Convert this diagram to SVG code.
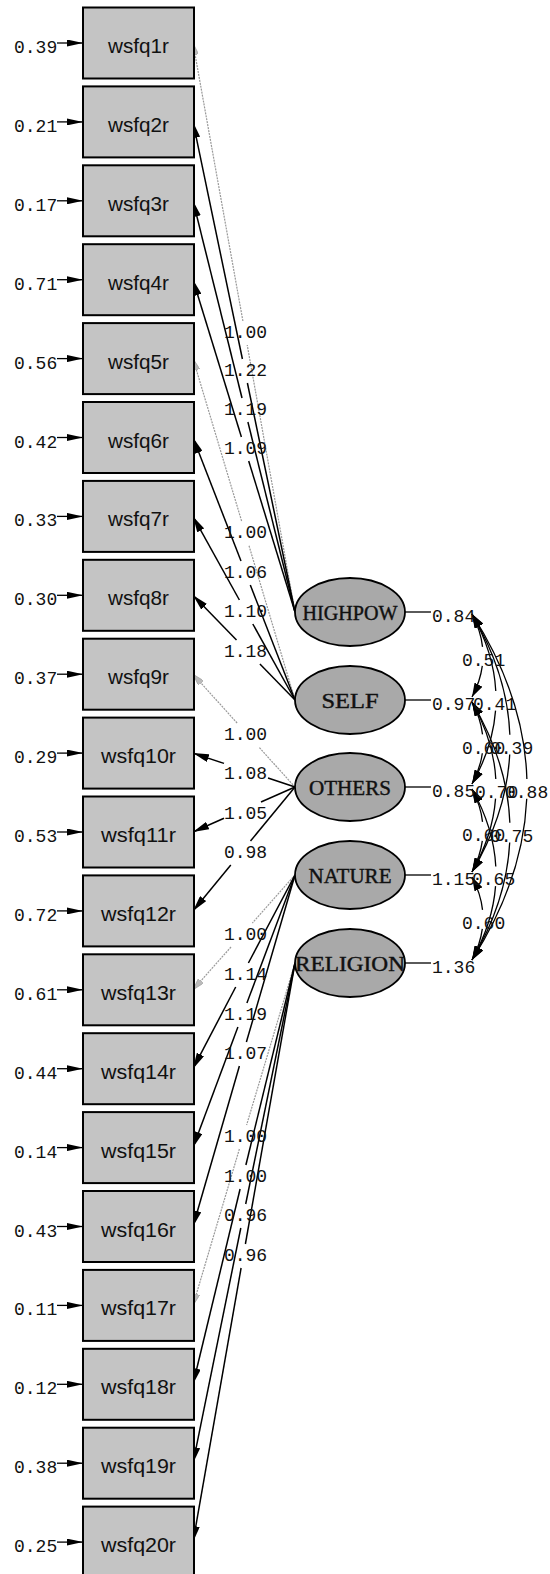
<svg xmlns="http://www.w3.org/2000/svg" width="550" height="1574" viewBox="0 0 550 1574">
<style>
.box{fill:#c4c4c4;stroke:#000;stroke-width:2}
.lat{fill:#a9a9a9;stroke:#000;stroke-width:1.8}
.bt{font-family:"Liberation Sans",Arial,sans-serif;font-size:20px;text-anchor:middle;fill:#111}
.lt{font-family:"Liberation Serif","Times New Roman",serif;font-size:20px;text-anchor:middle;fill:#111;stroke:#111;stroke-width:0.4}
.num{font-family:"Liberation Mono","Courier New",monospace;font-size:18px;fill:#111}
.mid{text-anchor:middle}
.ld{stroke:#000;stroke-width:1.5;fill:none}
.fx{stroke:#999;stroke-width:1.2;stroke-dasharray:2 1;fill:none}
.er{stroke:#000;stroke-width:1.3;fill:none}
.cv{stroke:#000;stroke-width:1.3;fill:none}
</style>
<defs>
<marker id="ah" viewBox="0 0 16 8" refX="16" refY="4" markerWidth="16" markerHeight="8" markerUnits="userSpaceOnUse" orient="auto"><path d="M0,0 L16,4 L0,8 z" fill="#000"/></marker>
<marker id="ahg" viewBox="0 0 12 7" refX="12" refY="3.5" markerWidth="12" markerHeight="7" markerUnits="userSpaceOnUse" orient="auto"><path d="M0,0 L12,3.5 L0,7 z" fill="#bbb" stroke="#999" stroke-width="0.6"/></marker>
<marker id="ae" viewBox="0 0 16 7" refX="16" refY="3.5" markerWidth="16" markerHeight="7" markerUnits="userSpaceOnUse" orient="auto"><path d="M0,0 L16,3.5 L0,7 z" fill="#000"/></marker>
<marker id="ac" viewBox="0 0 14 9" refX="14" refY="4.5" markerWidth="14" markerHeight="9" markerUnits="userSpaceOnUse" orient="auto-start-reverse"><path d="M0,0 L14,4.5 L0,9 z" fill="#000"/></marker>
</defs>

<g id="connectors">
<g id="errors">
<line class="er" x1="57" y1="43" x2="83" y2="43" marker-end="url(#ae)"/>
<line class="er" x1="57" y1="121.9" x2="83" y2="121.9" marker-end="url(#ae)"/>
<line class="er" x1="57" y1="200.8" x2="83" y2="200.8" marker-end="url(#ae)"/>
<line class="er" x1="57" y1="279.7" x2="83" y2="279.7" marker-end="url(#ae)"/>
<line class="er" x1="57" y1="358.6" x2="83" y2="358.6" marker-end="url(#ae)"/>
<line class="er" x1="57" y1="437.5" x2="83" y2="437.5" marker-end="url(#ae)"/>
<line class="er" x1="57" y1="516.4" x2="83" y2="516.4" marker-end="url(#ae)"/>
<line class="er" x1="57" y1="595.3" x2="83" y2="595.3" marker-end="url(#ae)"/>
<line class="er" x1="57" y1="674.2" x2="83" y2="674.2" marker-end="url(#ae)"/>
<line class="er" x1="57" y1="753.1" x2="83" y2="753.1" marker-end="url(#ae)"/>
<line class="er" x1="57" y1="832" x2="83" y2="832" marker-end="url(#ae)"/>
<line class="er" x1="57" y1="910.9" x2="83" y2="910.9" marker-end="url(#ae)"/>
<line class="er" x1="57" y1="989.8" x2="83" y2="989.8" marker-end="url(#ae)"/>
<line class="er" x1="57" y1="1068.7" x2="83" y2="1068.7" marker-end="url(#ae)"/>
<line class="er" x1="57" y1="1147.6" x2="83" y2="1147.6" marker-end="url(#ae)"/>
<line class="er" x1="57" y1="1226.5" x2="83" y2="1226.5" marker-end="url(#ae)"/>
<line class="er" x1="57" y1="1305.4" x2="83" y2="1305.4" marker-end="url(#ae)"/>
<line class="er" x1="57" y1="1384.3" x2="83" y2="1384.3" marker-end="url(#ae)"/>
<line class="er" x1="57" y1="1463.2" x2="83" y2="1463.2" marker-end="url(#ae)"/>
<line class="er" x1="57" y1="1542.1" x2="83" y2="1542.1" marker-end="url(#ae)"/>
</g>
<g id="loadings">
<line class="fx" x1="295" y1="612" x2="247.2" y2="345"/><line class="fx" x1="242.9" y1="321" x2="193" y2="43" marker-end="url(#ahg)"/>
<line class="ld" x1="295" y1="612" x2="247.4" y2="383"/><line class="ld" x1="242.4" y1="359" x2="193" y2="121.9" marker-end="url(#ah)"/>
<line class="ld" x1="295" y1="612" x2="247.9" y2="422"/><line class="ld" x1="242" y1="398" x2="193" y2="200.8" marker-end="url(#ah)"/>
<line class="ld" x1="295" y1="612" x2="248.7" y2="461"/><line class="ld" x1="241.4" y1="437" x2="193" y2="279.7" marker-end="url(#ah)"/>
<line class="fx" x1="295" y1="700" x2="248.8" y2="545"/><line class="fx" x1="241.6" y1="521" x2="193" y2="358.6" marker-end="url(#ahg)"/>
<line class="ld" x1="295" y1="700" x2="250.3" y2="585"/><line class="ld" x1="241" y1="561" x2="193" y2="437.5" marker-end="url(#ah)"/>
<line class="ld" x1="295" y1="700" x2="252.8" y2="624"/><line class="ld" x1="239.4" y1="600" x2="193" y2="516.4" marker-end="url(#ah)"/>
<line class="ld" x1="295" y1="700" x2="259.9" y2="664"/><line class="ld" x1="236.5" y1="640" x2="193" y2="595.3" marker-end="url(#ah)"/>
<line class="fx" x1="295" y1="787" x2="258.8" y2="747"/><line class="fx" x1="237.1" y1="723" x2="193" y2="674.2" marker-end="url(#ahg)"/>
<line class="ld" x1="295" y1="787" x2="268" y2="778"/><line class="ld" x1="224" y1="763.4" x2="193" y2="753.1" marker-end="url(#ah)"/>
<line class="ld" x1="295" y1="787" x2="261" y2="802"/><line class="ld" x1="224" y1="818.3" x2="193" y2="832" marker-end="url(#ah)"/>
<line class="ld" x1="295" y1="787" x2="250.5" y2="841"/><line class="ld" x1="230.8" y1="865" x2="193" y2="910.9" marker-end="url(#ah)"/>
<line class="fx" x1="295" y1="875" x2="252.4" y2="923"/><line class="fx" x1="231" y1="947" x2="193" y2="989.8" marker-end="url(#ahg)"/>
<line class="ld" x1="295" y1="875" x2="248.4" y2="963"/><line class="ld" x1="235.7" y1="987" x2="193" y2="1068.7" marker-end="url(#ah)"/>
<line class="ld" x1="295" y1="875" x2="246.9" y2="1003"/><line class="ld" x1="237.9" y1="1027" x2="193" y2="1147.6" marker-end="url(#ah)"/>
<line class="ld" x1="295" y1="875" x2="246.4" y2="1042"/><line class="ld" x1="239.4" y1="1066" x2="193" y2="1226.5" marker-end="url(#ah)"/>
<line class="fx" x1="295" y1="963" x2="246.6" y2="1125"/><line class="fx" x1="239.4" y1="1149" x2="193" y2="1305.4" marker-end="url(#ahg)"/>
<line class="ld" x1="295" y1="963" x2="245.9" y2="1165"/><line class="ld" x1="240.1" y1="1189" x2="193" y2="1384.3" marker-end="url(#ah)"/>
<line class="ld" x1="295" y1="963" x2="245.7" y2="1204"/><line class="ld" x1="240.8" y1="1228" x2="193" y2="1463.2" marker-end="url(#ah)"/>
<line class="ld" x1="295" y1="963" x2="245.4" y2="1244"/><line class="ld" x1="241.1" y1="1268" x2="193" y2="1542.1" marker-end="url(#ah)"/>
</g>
<g id="variances">
<line class="er" x1="405" y1="612" x2="431" y2="612"/>
<line class="er" x1="405" y1="700" x2="431" y2="700"/>
<line class="er" x1="405" y1="787" x2="431" y2="787"/>
<line class="er" x1="405" y1="875" x2="431" y2="875"/>
<line class="er" x1="405" y1="963" x2="431" y2="963"/>
</g>
<g id="covariances">
<path class="cv" pathLength="100" stroke-dasharray="40 22 38" d="M472,614 Q494,655.5 472,697" marker-start="url(#ac)" marker-end="url(#ac)"/>
<path class="cv" pathLength="100" stroke-dasharray="45.5 11 43.5" d="M472,614 Q520,699 472,784" marker-start="url(#ac)" marker-end="url(#ac)"/>
<path class="cv" pathLength="100" stroke-dasharray="47 7.2 45.8" d="M472,614 Q548,743 472,872" marker-start="url(#ac)" marker-end="url(#ac)"/>
<path class="cv" pathLength="100" stroke-dasharray="47.8 5.4 46.8" d="M472,614 Q582,787 472,960" marker-start="url(#ac)" marker-end="url(#ac)"/>
<path class="cv" pathLength="100" stroke-dasharray="40 22 38" d="M472,702 Q494,743 472,784" marker-start="url(#ac)" marker-end="url(#ac)"/>
<path class="cv" pathLength="100" stroke-dasharray="45.5 11 43.5" d="M472,702 Q520,787 472,872" marker-start="url(#ac)" marker-end="url(#ac)"/>
<path class="cv" pathLength="100" stroke-dasharray="47 7.2 45.8" d="M472,702 Q548,831 472,960" marker-start="url(#ac)" marker-end="url(#ac)"/>
<path class="cv" pathLength="100" stroke-dasharray="40 22 38" d="M472,789 Q494,830.5 472,872" marker-start="url(#ac)" marker-end="url(#ac)"/>
<path class="cv" pathLength="100" stroke-dasharray="45.5 11 43.5" d="M472,789 Q520,874.5 472,960" marker-start="url(#ac)" marker-end="url(#ac)"/>
<path class="cv" pathLength="100" stroke-dasharray="40 22 38" d="M472,877 Q494,918.5 472,960" marker-start="url(#ac)" marker-end="url(#ac)"/>
</g>
</g>

<g id="labels">
<g id="error-labels" class="num">
<text x="14" y="53">0.39</text>
<text x="14" y="131.9">0.21</text>
<text x="14" y="210.8">0.17</text>
<text x="14" y="289.7">0.71</text>
<text x="14" y="368.6">0.56</text>
<text x="14" y="447.5">0.42</text>
<text x="14" y="526.4">0.33</text>
<text x="14" y="605.3">0.30</text>
<text x="14" y="684.2">0.37</text>
<text x="14" y="763.1">0.29</text>
<text x="14" y="842">0.53</text>
<text x="14" y="920.9">0.72</text>
<text x="14" y="999.8">0.61</text>
<text x="14" y="1078.7">0.44</text>
<text x="14" y="1157.6">0.14</text>
<text x="14" y="1236.5">0.43</text>
<text x="14" y="1315.4">0.11</text>
<text x="14" y="1394.3">0.12</text>
<text x="14" y="1473.2">0.38</text>
<text x="14" y="1552.1">0.25</text>
</g>
<g id="loading-labels" class="num mid">
<text x="245.5" y="338">1.00</text>
<text x="245.5" y="376">1.22</text>
<text x="245.5" y="415">1.19</text>
<text x="245.5" y="454">1.09</text>
<text x="245.5" y="538">1.00</text>
<text x="245.5" y="578">1.06</text>
<text x="245.5" y="617">1.10</text>
<text x="245.5" y="657">1.18</text>
<text x="245.5" y="740">1.00</text>
<text x="245.5" y="779">1.08</text>
<text x="245.5" y="819">1.05</text>
<text x="245.5" y="858">0.98</text>
<text x="245.5" y="940">1.00</text>
<text x="245.5" y="980">1.14</text>
<text x="245.5" y="1020">1.19</text>
<text x="245.5" y="1059">1.07</text>
<text x="245.5" y="1142">1.00</text>
<text x="245.5" y="1182">1.00</text>
<text x="245.5" y="1221">0.96</text>
<text x="245.5" y="1261">0.96</text>
</g>
<g id="variance-labels" class="num">
<text x="432" y="622">0.84</text>
<text x="432" y="710">0.97</text>
<text x="432" y="797">0.85</text>
<text x="432" y="885">1.15</text>
<text x="432" y="973">1.36</text>
</g>
<g id="covariance-labels" class="num">
<text x="462" y="666">0.51</text>
<text x="473" y="710">0.41</text>
<text x="490" y="754">0.39</text>
<text x="505" y="798">0.88</text>
<text x="462" y="754">0.60</text>
<text x="475" y="798">0.70</text>
<text x="490" y="842">0.75</text>
<text x="462" y="841">0.60</text>
<text x="472" y="885">0.65</text>
<text x="462" y="929">0.60</text>
</g>
</g>

<g id="wsfq1r"><rect class="box" x="83" y="7.5" width="111" height="71"/><text class="bt" x="138.5" y="53" textLength="61" lengthAdjust="spacingAndGlyphs">wsfq1r</text></g>
<g id="wsfq2r"><rect class="box" x="83" y="86.4" width="111" height="71"/><text class="bt" x="138.5" y="131.9" textLength="61" lengthAdjust="spacingAndGlyphs">wsfq2r</text></g>
<g id="wsfq3r"><rect class="box" x="83" y="165.3" width="111" height="71"/><text class="bt" x="138.5" y="210.8" textLength="61" lengthAdjust="spacingAndGlyphs">wsfq3r</text></g>
<g id="wsfq4r"><rect class="box" x="83" y="244.2" width="111" height="71"/><text class="bt" x="138.5" y="289.7" textLength="61" lengthAdjust="spacingAndGlyphs">wsfq4r</text></g>
<g id="wsfq5r"><rect class="box" x="83" y="323.1" width="111" height="71"/><text class="bt" x="138.5" y="368.6" textLength="61" lengthAdjust="spacingAndGlyphs">wsfq5r</text></g>
<g id="wsfq6r"><rect class="box" x="83" y="402" width="111" height="71"/><text class="bt" x="138.5" y="447.5" textLength="61" lengthAdjust="spacingAndGlyphs">wsfq6r</text></g>
<g id="wsfq7r"><rect class="box" x="83" y="480.9" width="111" height="71"/><text class="bt" x="138.5" y="526.4" textLength="61" lengthAdjust="spacingAndGlyphs">wsfq7r</text></g>
<g id="wsfq8r"><rect class="box" x="83" y="559.8" width="111" height="71"/><text class="bt" x="138.5" y="605.3" textLength="61" lengthAdjust="spacingAndGlyphs">wsfq8r</text></g>
<g id="wsfq9r"><rect class="box" x="83" y="638.7" width="111" height="71"/><text class="bt" x="138.5" y="684.2" textLength="61" lengthAdjust="spacingAndGlyphs">wsfq9r</text></g>
<g id="wsfq10r"><rect class="box" x="83" y="717.6" width="111" height="71"/><text class="bt" x="138.5" y="763.1" textLength="75" lengthAdjust="spacingAndGlyphs">wsfq10r</text></g>
<g id="wsfq11r"><rect class="box" x="83" y="796.5" width="111" height="71"/><text class="bt" x="138.5" y="842" textLength="75" lengthAdjust="spacingAndGlyphs">wsfq11r</text></g>
<g id="wsfq12r"><rect class="box" x="83" y="875.4" width="111" height="71"/><text class="bt" x="138.5" y="920.9" textLength="75" lengthAdjust="spacingAndGlyphs">wsfq12r</text></g>
<g id="wsfq13r"><rect class="box" x="83" y="954.3" width="111" height="71"/><text class="bt" x="138.5" y="999.8" textLength="75" lengthAdjust="spacingAndGlyphs">wsfq13r</text></g>
<g id="wsfq14r"><rect class="box" x="83" y="1033.2" width="111" height="71"/><text class="bt" x="138.5" y="1078.7" textLength="75" lengthAdjust="spacingAndGlyphs">wsfq14r</text></g>
<g id="wsfq15r"><rect class="box" x="83" y="1112.1" width="111" height="71"/><text class="bt" x="138.5" y="1157.6" textLength="75" lengthAdjust="spacingAndGlyphs">wsfq15r</text></g>
<g id="wsfq16r"><rect class="box" x="83" y="1191" width="111" height="71"/><text class="bt" x="138.5" y="1236.5" textLength="75" lengthAdjust="spacingAndGlyphs">wsfq16r</text></g>
<g id="wsfq17r"><rect class="box" x="83" y="1269.9" width="111" height="71"/><text class="bt" x="138.5" y="1315.4" textLength="75" lengthAdjust="spacingAndGlyphs">wsfq17r</text></g>
<g id="wsfq18r"><rect class="box" x="83" y="1348.8" width="111" height="71"/><text class="bt" x="138.5" y="1394.3" textLength="75" lengthAdjust="spacingAndGlyphs">wsfq18r</text></g>
<g id="wsfq19r"><rect class="box" x="83" y="1427.7" width="111" height="71"/><text class="bt" x="138.5" y="1473.2" textLength="75" lengthAdjust="spacingAndGlyphs">wsfq19r</text></g>
<g id="wsfq20r"><rect class="box" x="83" y="1506.6" width="111" height="71"/><text class="bt" x="138.5" y="1552.1" textLength="75" lengthAdjust="spacingAndGlyphs">wsfq20r</text></g>

<g id="HIGHPOW"><ellipse class="lat" cx="350" cy="612" rx="55" ry="34"/><text class="lt" x="350" y="620" textLength="95" lengthAdjust="spacingAndGlyphs">HIGHPOW</text></g>
<g id="SELF"><ellipse class="lat" cx="350" cy="700" rx="55" ry="34"/><text class="lt" x="350" y="708" textLength="57" lengthAdjust="spacingAndGlyphs">SELF</text></g>
<g id="OTHERS"><ellipse class="lat" cx="350" cy="787" rx="55" ry="34"/><text class="lt" x="350" y="795" textLength="82" lengthAdjust="spacingAndGlyphs">OTHERS</text></g>
<g id="NATURE"><ellipse class="lat" cx="350" cy="875" rx="55" ry="34"/><text class="lt" x="350" y="883" textLength="83" lengthAdjust="spacingAndGlyphs">NATURE</text></g>
<g id="RELIGION"><ellipse class="lat" cx="350" cy="963" rx="55" ry="34"/><text class="lt" x="350" y="971" textLength="110" lengthAdjust="spacingAndGlyphs">RELIGION</text></g>
</svg>
